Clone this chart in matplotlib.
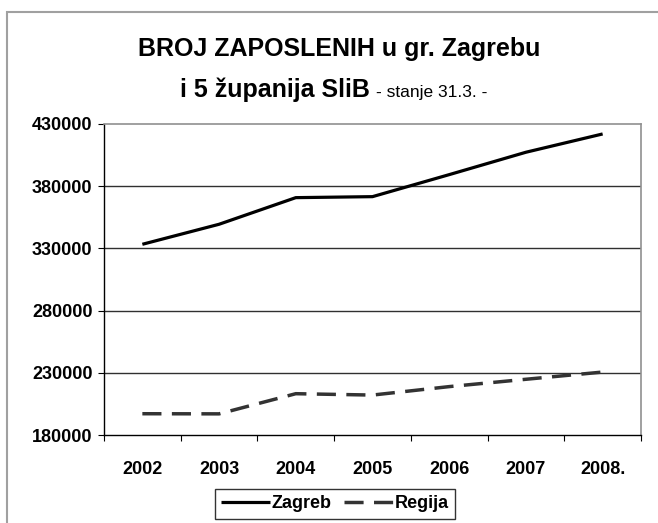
import matplotlib
matplotlib.use('Agg')
import matplotlib.pyplot as plt
from matplotlib.patches import Rectangle

plt.rcParams['font.family'] = ['Liberation Sans', 'DejaVu Sans']

years = ['2002', '2003', '2004', '2005', '2006', '2007', '2008.']
zagreb = [333300, 349400, 370800, 371600, 389300, 407300, 422000]
regija = [197100, 197000, 213200, 212100, 218900, 224800, 230600]
yticks = [180000, 230000, 280000, 330000, 380000, 430000]

fig = plt.figure(figsize=(6.58, 5.23), dpi=100)
W, H = 658, 523

# outer chart border (only left/top visible in the crop)
fig.patches.append(Rectangle((7 / W, -0.1), 2.0, (523 - 12) / H + 0.1,
                             transform=fig.transFigure, fill=False,
                             edgecolor='#a0a0a0', linewidth=1.5))

ax = fig.add_axes([104 / W, (H - 435) / H, (641 - 104) / W, (435 - 124) / H])
x = list(range(len(years)))

ax.plot(x, zagreb, color='black', linewidth=2.3, solid_capstyle='butt', label='Zagreb')
ax.plot(x, regija, color='#333333', linewidth=2.5, dashes=(5.5, 3.0),
        dash_capstyle='butt', label='Regija')

ax.set_xlim(-0.5, len(years) - 0.5)
ax.set_ylim(180000, 430000)
ax.set_yticks(yticks)
ax.set_yticklabels([str(v) for v in yticks], fontsize=13, fontweight='bold')
for v in yticks[1:-1]:
    ax.axhline(v, color='#303030', linewidth=1.0, zorder=0)

ax.set_xticks([i - 0.5 for i in range(len(years) + 1)])
ax.set_xticklabels([])
ax.set_xticks(x, minor=True)
ax.set_xticklabels(years, minor=True, fontsize=13, fontweight='bold')
ax.tick_params(axis='x', which='minor', length=0, pad=19)
ax.tick_params(axis='x', which='major', length=4.3, direction='out', color='black')
ax.tick_params(axis='y', length=4.3, direction='out', pad=4)

for s in ['left', 'bottom']:
    ax.spines[s].set_color('black')
    ax.spines[s].set_linewidth(1.0)
for s in ['top', 'right']:
    ax.spines[s].set_color('#909090')
    ax.spines[s].set_linewidth(1.2)

fig.text(339 / W, 1 - 56 / H, 'BROJ ZAPOSLENIH u gr. Zagrebu', ha='center',
         va='baseline', fontsize=18, fontweight='bold')
fig.text(180 / W, 1 - 97 / H, 'i 5 županija SliB', ha='left',
         va='baseline', fontsize=18, fontweight='bold')
fig.text(376 / W, 1 - 97 / H, '- stanje 31.3. -', ha='left', va='baseline',
         fontsize=12.5)

leg = fig.legend(loc='center', bbox_to_anchor=(335 / W, 1 - 504 / H),
                 ncol=2, frameon=True, fancybox=False, handlelength=2.7,
                 handletextpad=0.1, columnspacing=0.7, borderpad=0.35,
                 prop={'size': 13, 'weight': 'bold'})
leg.get_frame().set_edgecolor('black')
leg.get_frame().set_linewidth(1.0)

fig.savefig('out.png', dpi=100)
